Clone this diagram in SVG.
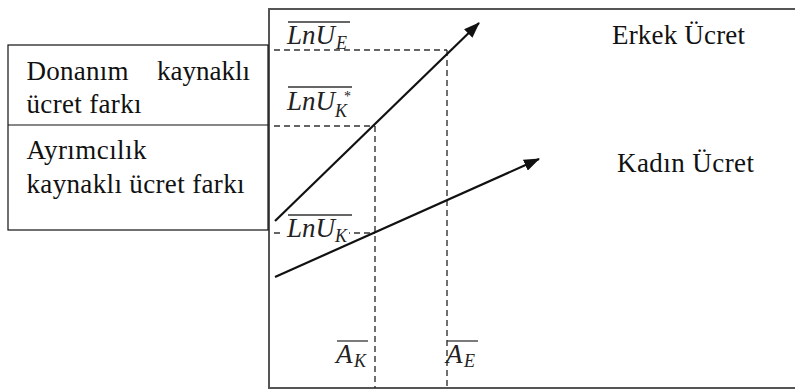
<svg xmlns="http://www.w3.org/2000/svg" width="795" height="390" viewBox="0 0 795 390">
  <defs>
    <style>
      .txt { font-family: "Liberation Serif", "Times New Roman", serif; font-size: 27px; fill: #111; }
      .math { font-family: "Liberation Serif", "Times New Roman", serif; font-style: italic; font-size: 27px; fill: #222; }
      .sub { font-family: "Liberation Serif", "Times New Roman", serif; font-style: italic; font-size: 18px; fill: #222; }
      .ov { stroke: #333; stroke-width: 1.3; fill: none; }
      .dash { stroke: #333; stroke-width: 1.4; stroke-dasharray: 6 4; fill: none; }
      .solid { stroke: #111; stroke-width: 2.2; fill: none; }
      .frame { stroke: #555; stroke-width: 2; fill: none; }
      .box { stroke: #111; stroke-width: 1.2; fill: #fff; }
    </style>
    <marker id="arrowhead" viewBox="0 0 16 12" refX="15" refY="6" markerWidth="16" markerHeight="12" markerUnits="userSpaceOnUse" orient="auto">
      <path d="M0,0 L16,6 L0,12 z" fill="#111"/>
    </marker>
  </defs>
  <rect x="0" y="0" width="795" height="390" fill="#fff"/>

  <g id="chart-frame">
    <path class="frame" d="M795,9 L269,9 L269,388 L795,388"/>
  </g>

  <g id="legend-box">
    <rect class="box" x="8" y="45" width="260" height="185"/>
    <line x1="8" y1="125" x2="268" y2="125" stroke="#111" stroke-width="1.2"/>
    <text class="txt" x="26.5" y="80" textLength="102">Donanım</text>
    <text class="txt" x="250" y="80" text-anchor="end">kaynaklı</text>
    <text class="txt" x="26.5" y="113" textLength="115">ücret farkı</text>
    <text class="txt" x="26.5" y="159" textLength="120">Ayrımcılık</text>
    <text class="txt" x="26.5" y="193" textLength="218">kaynaklı ücret farkı</text>
  </g>

  <g id="guides">
    <line class="dash" x1="274" y1="50" x2="447" y2="50"/>
    <line class="dash" x1="447" y1="50" x2="447" y2="388"/>
    <line class="dash" x1="274" y1="126" x2="375" y2="126"/>
    <line class="dash" x1="375" y1="126" x2="375" y2="388"/>
    <line class="dash" x1="274" y1="233" x2="375" y2="233"/>
  </g>

  <g id="label-LnUE">
    <line class="ov" x1="288" y1="22" x2="350" y2="22"/>
    <text class="math" x="287" y="44">LnU</text>
    <text class="sub" x="336" y="49">E</text>
  </g>

  <g id="label-LnUKstar">
    <line class="ov" x1="288" y1="87" x2="352" y2="87"/>
    <text class="math" x="287" y="110">LnU</text>
    <text class="sub" x="335" y="117">K</text>
    <text class="sub" x="344" y="101" style="font-style:normal;font-size:14px">*</text>
  </g>

  <g id="label-LnUK">
    <rect x="283" y="219" width="66" height="26" fill="#fff"/>
    <line class="ov" x1="288" y1="215" x2="352" y2="215"/>
    <text class="math" x="287" y="237">LnU</text>
    <text class="sub" x="335" y="242">K</text>
  </g>

  <g id="label-AK">
    <line class="ov" x1="337" y1="341" x2="368" y2="341"/>
    <text class="math" x="336" y="363">A</text>
    <text class="sub" x="354" y="367">K</text>
  </g>

  <g id="label-AE">
    <line class="ov" x1="447" y1="341" x2="478" y2="341"/>
    <text class="math" x="446" y="363">A</text>
    <text class="sub" x="464" y="367">E</text>
  </g>

  <g id="label-erkek">
    <text class="txt" x="612" y="44" textLength="133">Erkek Ücret</text>
  </g>
  <g id="label-kadin">
    <text class="txt" x="617" y="172" textLength="137">Kadın Ücret</text>
  </g>

  <g id="connectors">
    <line id="erkek-line" class="solid" x1="275" y1="221" x2="479" y2="23" marker-end="url(#arrowhead)"/>
    <line id="kadin-line" class="solid" x1="275" y1="277" x2="539" y2="159" marker-end="url(#arrowhead)"/>
  </g>
</svg>
